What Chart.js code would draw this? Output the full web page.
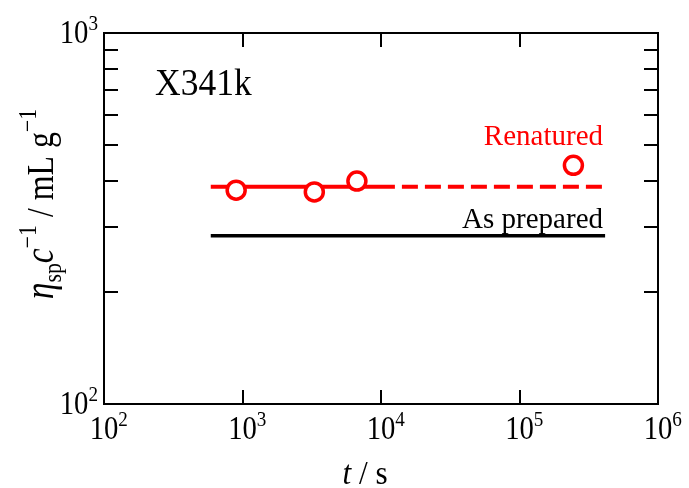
<!DOCTYPE html>
<html>
<head>
<meta charset="utf-8">
<script src="https://cdn.jsdelivr.net/npm/chart.js@4"></script>
<style>
  html, body { margin: 0; padding: 0; background: #fff; }
  #wrap { width: 689px; height: 488px; }
</style>
</head>
<body>
<div id="wrap"><canvas id="viscChart" width="689" height="488"></canvas></div>
<script>
// t / s y eta_sp c^-1 / mL g^-1 (muestra renaturalizada)
const renaturedT = [900, 3300, 6700, 245000];
const renaturedEta = [377, 373, 399, 440];

// Rectas horizontales: renaturalizada (sólida y punteada) y recién preparada
const renaturedLevel = 385;
const renaturedSolidT = [590, 12600];
const renaturedDashT = [12600, 405000];
const preparedLevel = 284;
const preparedT = [590, 415000];

// Marcas de los ejes
const xTicks = [1e2, 1e3, 1e4, 1e5, 1e6];
const xExponents = [2, 3, 4, 5, 6];
const yTicks = [1e2, 1e3];
const yExponents = [2, 3];
const yMinor = [200, 300, 400, 500, 600, 700, 800, 900];

const SERIF = '"Liberation Serif", "DejaVu Serif", serif';

function toPoints(xs, ys) {
  return xs.map((x, i) => ({ x: x, y: Array.isArray(ys) ? ys[i] : ys }));
}

// Dibuja texto con partes en subíndice/superíndice; sx comprime en horizontal
function drawRich(ctx, parts, x, y, align, sx) {
  sx = sx || 1;
  let total = 0;
  parts.forEach((p) => {
    ctx.font = (p.italic ? "italic " : "") + p.size + "px " + SERIF;
    p.w = ctx.measureText(p.t).width;
    total += p.w;
  });
  let cx = 0;
  if (align === "center") cx = -total / 2;
  if (align === "right") cx = -total;
  ctx.save();
  ctx.translate(x, y);
  ctx.scale(sx, 1);
  ctx.textAlign = "left";
  parts.forEach((p) => {
    ctx.font = (p.italic ? "italic " : "") + p.size + "px " + SERIF;
    ctx.fillText(p.t, cx, p.dy || 0);
    cx += p.w;
  });
  ctx.restore();
  return total * sx;
}

function powerLabel(exp) {
  return [
    { t: "10", size: 33 },
    { t: String(exp), size: 22, dy: -13 }
  ];
}

const axesPlugin = {
  id: "axesPlugin",
  afterDraw(chart) {
    const ctx = chart.ctx;
    const area = chart.chartArea;
    const xs = chart.scales.x;
    const ys = chart.scales.y;
    const condense = 0.87;
    ctx.save();
    ctx.strokeStyle = "#000";
    ctx.fillStyle = "#000";
    ctx.lineWidth = 2;
    ctx.strokeRect(area.left, area.top, area.right - area.left, area.bottom - area.top);

    // marcas hacia adentro
    ctx.beginPath();
    xTicks.forEach((v) => {
      const px = Math.round(xs.getPixelForValue(v));
      ctx.moveTo(px, area.bottom);
      ctx.lineTo(px, area.bottom - 14);
      ctx.moveTo(px, area.top);
      ctx.lineTo(px, area.top + 14);
    });
    yMinor.forEach((v) => {
      const py = Math.round(ys.getPixelForValue(v));
      ctx.moveTo(area.left, py);
      ctx.lineTo(area.left + 14, py);
      ctx.moveTo(area.right, py);
      ctx.lineTo(area.right - 14, py);
    });
    ctx.stroke();

    // etiquetas 10^n
    ctx.textBaseline = "alphabetic";
    xTicks.forEach((v, i) => {
      const px = xs.getPixelForValue(v);
      ctx.font = "33px " + SERIF;
      const w = ctx.measureText("10").width * condense;
      drawRich(ctx, powerLabel(xExponents[i]), px - w / 2, area.bottom + 35, "left", condense);
    });
    yTicks.forEach((v, i) => {
      const py = ys.getPixelForValue(v);
      drawRich(ctx, powerLabel(yExponents[i]), area.left - 6, py + 10, "right", condense);
    });

    // título del eje x
    drawRich(ctx, [
      { t: "t", size: 34, italic: true },
      { t: " / s", size: 34 }
    ], 365, 484, "center", 0.92);

    // título del eje y (rotado)
    ctx.save();
    ctx.translate(53, 204);
    ctx.rotate(-Math.PI / 2);
    drawRich(ctx, [
      { t: "η", size: 40, italic: true },
      { t: "sp", size: 26, dy: 8 },
      { t: "c", size: 40, italic: true },
      { t: "−1", size: 26, dy: -17 },
      { t: " / mL g", size: 38 },
      { t: "−1", size: 26, dy: -17 }
    ], 0, 0, "center", 0.84);
    ctx.restore();

    // rótulos dentro del gráfico
    ctx.fillStyle = "#000";
    drawRich(ctx, [{ t: "X341k", size: 37 }], area.left + 51, area.top + 62, "left", 0.96);
    ctx.fillStyle = "#ff0000";
    drawRich(ctx, [{ t: "Renatured", size: 29 }], 603, 145, "right");
    ctx.fillStyle = "#000";
    drawRich(ctx, [{ t: "As prepared", size: 29 }], 603, 228, "right");
    ctx.restore();
  }
};

new Chart(document.getElementById("viscChart").getContext("2d"), {
  type: "scatter",
  data: {
    datasets: [
      {
        label: "Renatured",
        data: toPoints(renaturedT, renaturedEta),
        pointRadius: 9,
        pointBorderWidth: 3.5,
        pointBackgroundColor: "#fff",
        pointBorderColor: "#ff0000",
        showLine: false
      },
      {
        label: "Renatured fit",
        data: toPoints(renaturedSolidT, renaturedLevel),
        showLine: true,
        borderColor: "#ff0000",
        borderWidth: 4,
        pointRadius: 0
      },
      {
        label: "Renatured fit (ext.)",
        data: toPoints(renaturedDashT, renaturedLevel),
        showLine: true,
        borderColor: "#ff0000",
        borderWidth: 4,
        borderDash: [16, 7],
        borderDashOffset: 16,
        pointRadius: 0
      },
      {
        label: "As prepared",
        data: toPoints(preparedT, preparedLevel),
        showLine: true,
        borderColor: "#000",
        borderWidth: 3.5,
        pointRadius: 0
      }
    ]
  },
  options: {
    responsive: false,
    animation: false,
    layout: { padding: { left: 104, top: 33, right: 31, bottom: 84 } },
    plugins: { legend: { display: false }, tooltip: { enabled: false } },
    scales: {
      x: { type: "logarithmic", min: 100, max: 1e6, display: false },
      y: { type: "logarithmic", min: 100, max: 1000, display: false }
    }
  },
  plugins: [axesPlugin]
});
</script>
</body>
</html>
